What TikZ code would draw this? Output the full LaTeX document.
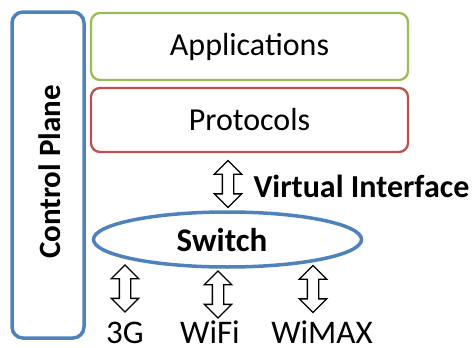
\documentclass[tikz,border=0pt]{standalone}
\usepackage{fontspec}
\setmainfont{Carlito}
\usetikzlibrary{shapes.geometric,shapes.arrows}
\definecolor{cpblue}{HTML}{4F81BD}
\definecolor{appgreen}{HTML}{9BBB59}
\definecolor{protred}{HTML}{C0504D}
\tikzset{
  layer/.style={draw, line width=2.3pt, rounded corners=9pt, minimum width=317pt, font=\fontsize{32}{36}\selectfont},
  darrow/.style={double arrow, draw=black, fill=white, line width=1.4pt, rotate=90, minimum height=47pt, inner sep=0pt, inner ysep=5pt, double arrow head extend=8pt},
  lbl/.style={font=\fontsize{33}{36}\selectfont, anchor=base, inner sep=0pt},
}
\begin{document}
\begin{tikzpicture}[x=1pt,y=-1pt]
\useasboundingbox (0,0) rectangle (472,348);
\node[draw=cpblue, line width=3.5pt, rounded corners=11pt, minimum width=72pt, minimum height=326pt] (cp) at (48,175) {};
\node[rotate=90, font=\bfseries\fontsize{31}{36}\selectfont] (cpt) at (50,172) {Control Plane};
\node[layer, draw=appgreen, minimum height=67pt] (app) at (249.5,46.5) {Applications};
\node[layer, draw=protred, minimum height=64pt] (prot) at (249.5,120) {Protocols};
\node[darrow] (va) at (228,184) {};
\node[anchor=west, font=\bfseries\fontsize{32}{36}\selectfont] (vi) at (250,186) {Virtual Interface};
\node[ellipse, draw=cpblue, line width=3.5pt, minimum width=268pt, minimum height=55pt] (sw) at (227.5,239.5) {};
\node[font=\bfseries\fontsize{33}{36}\selectfont] (swt) at (222,240) {Switch};
\node[darrow] (a1) at (125,288.5) {};
\node[darrow] (a2) at (218,294.5) {};
\node[darrow] (a3) at (313,289) {};
\node[lbl] (g3) at (125,343) {3G};
\node[lbl] (wifi) at (210,343) {WiFi};
\node[lbl] (wimax) at (322,343) {WiMAX};
\end{tikzpicture}
\end{document}
